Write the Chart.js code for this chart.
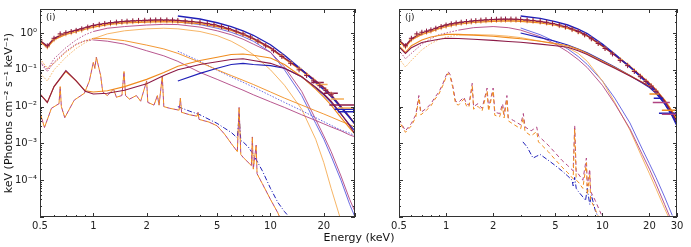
<!DOCTYPE html>
<html>
<head>
<meta charset="utf-8">
<script src="https://cdn.jsdelivr.net/npm/chart.js@4.4.1/dist/chart.umd.min.js"></script>
<style>
  body { margin: 0; background: #fff; width: 691px; height: 247px; position: relative; overflow: hidden; font-family: "DejaVu Sans", sans-serif; }
  #left { position: absolute; left: 0; top: 0; }
  #right { position: absolute; left: 340px; top: 0; }
  #xtitle { position: absolute; left: 259px; width: 200px; top: 231px; text-align: center; font-size: 11px; color: #111; }
</style>
</head>
<body>
<canvas id="left" width="360" height="247"></canvas>
<canvas id="right" width="351" height="247"></canvas>
<div id="xtitle">Energy (keV)</div>
<script>
// energy grid (keV) for the smooth model components
const energyGrid = [0.5, 0.55, 0.6, 0.7, 0.8, 0.9, 1, 1.2, 1.5, 2, 2.5, 3, 4, 5, 6, 7, 8, 10, 12, 15, 18, 20, 22, 25, 28, 30];
const N = null;

// ---- panel (i) ----
const totalMaroonI = [0.62, 0.44, 0.72, 1.0, 1.2, 1.4, 1.6, 1.85, 2.05, 2.2, 2.25, 2.2, 1.95, 1.6, 1.25, 0.95, 0.72, 0.4, 0.21, 0.1, 0.05, 0.033, 0.021, 0.01, 0.0052, 0.0033];
const totalOrangeI = [0.58, 0.41, 0.66, 0.92, 1.1, 1.28, 1.45, 1.7, 1.9, 2.0, 2.05, 2.0, 1.8, 1.5, 1.18, 0.9, 0.68, 0.38, 0.2, 0.095, 0.048, 0.031, 0.02, 0.0098, 0.0052, 0.0034];
const totalBlueI = [N, N, N, N, N, N, N, N, N, N, N, 2.9, 2.4, 1.9, 1.5, 1.15, 0.87, 0.48, 0.25, 0.1, 0.045, 0.029, 0.019, 0.0095, 0.005, 0.0034];
const comptMaroonI = [0.022, 0.013, 0.035, 0.095, 0.05, 0.026, 0.022, 0.023, 0.028, 0.042, 0.07, 0.1, 0.14, 0.165, 0.19, 0.2, 0.18, 0.15, 0.11, 0.065, 0.034, 0.022, 0.014, 0.0065, 0.003, 0.0018];
const comptOrangeI = [0.022, 0.013, 0.035, 0.09, 0.05, 0.027, 0.025, 0.027, 0.035, 0.055, 0.085, 0.125, 0.18, 0.22, 0.26, 0.27, 0.25, 0.21, 0.14, 0.065, 0.03, 0.018, 0.011, 0.005, 0.0026, 0.0018];
const comptBlueI = [N, N, N, N, N, N, N, N, N, N, N, 0.05, 0.08, 0.11, 0.14, 0.15, 0.14, 0.13, 0.11, 0.065, 0.032, 0.021, 0.013, 0.0062, 0.0032, 0.0022];
const plPurpleI = [0.16, 0.09, 0.16, 0.32, 0.5, 0.62, 0.65, 0.6, 0.5, 0.33, 0.24, 0.17, 0.085, 0.055, 0.038, 0.028, 0.021, 0.0135, 0.0095, 0.006, 0.0042, 0.0034, 0.0028, 0.0022, 0.0017, 0.0015];
const plOrangeI = [0.2, 0.11, 0.15, 0.3, 0.48, 0.62, 0.72, 0.7, 0.62, 0.47, 0.37, 0.28, 0.16, 0.1, 0.07, 0.052, 0.04, 0.025, 0.017, 0.011, 0.0077, 0.0063, 0.0052, 0.004, 0.0032, 0.0028];
const plBlueI = [N, N, N, N, N, N, N, N, N, N, N, 0.32, 0.17, 0.098, 0.064, 0.046, 0.034, 0.02, 0.013, 0.0078, 0.005, 0.0039, 0.0031, 0.0023, 0.0019, 0.0016];
const cutOrangeI = [0.08, 0.05, 0.1, 0.22, 0.38, 0.55, 0.7, 0.95, 1.15, 1.3, 1.35, 1.3, 1.1, 0.85, 0.6, 0.4, 0.26, 0.1, 0.038, 0.0085, 0.0013, 0.0003, 0.00006, 0.000008, N, N];
const cutPurpleI = [0.17, 0.1, 0.2, 0.4, 0.65, 0.9, 1.1, 1.35, 1.5, 1.65, 1.72, 1.7, 1.45, 1.15, 0.9, 0.68, 0.5, 0.3, 0.12, 0.026, 0.0045, 0.0016, 0.0006, 0.00013, 0.00003, 0.000014];
const cutBlueI = [N, N, N, N, N, N, N, N, N, N, N, 2.0, 1.7, 1.35, 1.05, 0.8, 0.6, 0.3, 0.1, 0.02, 0.0035, 0.0013, 0.00045, 0.0001, 0.000022, 0.00001];

// line-emission component (i)
const lineEnergyI = [0.5, 0.53, 0.58, 0.64, 0.65, 0.66, 0.69, 0.78, 0.89, 0.95, 1.0, 1.02, 1.04, 1.1, 1.13, 1.2, 1.3, 1.35, 1.45, 1.49, 1.52, 1.6, 1.75, 1.85, 2.0, 2.03, 2.2, 2.3, 2.35, 2.45, 2.5, 2.7, 3.05, 3.1, 3.15, 3.5, 3.85, 3.9, 3.95, 4.5, 5, 5.5, 6, 6.5, 6.65, 6.8, 7, 7.8, 7.9, 8.0, 8.3, 8.4, 9, 10, 11, 11.5];
const lineI = [0.007, 0.0027, 0.009, 0.012, 0.035, 0.01, 0.005, 0.015, 0.023, 0.05, 0.16, 0.11, 0.22, 0.07, 0.025, 0.02, 0.03, 0.018, 0.02, 0.09, 0.02, 0.016, 0.02, 0.014, 0.05, 0.013, 0.011, 0.02, 0.011, 0.067, 0.01, 0.009, 0.008, 0.017, 0.007, 0.006, 0.0055, 0.007, 0.0045, 0.0038, 0.003, 0.0018, 0.001, 0.0006, 0.0095, 0.0005, 0.00042, 0.00025, 0.0015, 0.0002, 0.0009, 0.00015, 0.00008, 0.00003, 0.000013, 0.000008];
const lineBlueEnergyI = [3, 3.5, 4, 4.5, 5, 5.5, 6, 6.5, 6.65, 6.8, 7, 7.5, 8, 9, 10, 11, 12, 13];
const lineBlueI = [0.01, 0.0075, 0.006, 0.0045, 0.0035, 0.0026, 0.002, 0.0014, 0.006, 0.0012, 0.0011, 0.0008, 0.0005, 0.00018, 0.00006, 0.000025, 0.000014, 0.000009];

// observed points
const dataEnergy = [0.5, 0.55, 0.6, 0.65, 0.7, 0.75, 0.8, 0.86, 0.93, 1.0, 1.08, 1.16, 1.25, 1.35, 1.45, 1.55, 1.67, 1.8, 1.95, 2.1, 2.25, 2.4, 2.6, 2.8, 3.0, 3.3, 3.6, 4.0, 4.4, 4.8, 5.3, 5.8, 6.4, 7.0, 7.7, 8.5, 9.4, 10.4, 11.6, 13, 14.5, 16, 17.5, 19, 20.5, 22];
const dataMaroonI = [0.65, 0.45, 0.72, 0.95, 1.02, 1.1, 1.18, 1.3, 1.45, 1.6, 1.72, 1.82, 1.9, 1.98, 2.05, 2.1, 2.15, 2.2, 2.22, 2.25, 2.27, 2.28, 2.27, 2.25, 2.2, 2.12, 2.05, 1.95, 1.82, 1.68, 1.5, 1.32, 1.12, 0.95, 0.78, 0.6, 0.45, 0.33, 0.23, 0.15, 0.1, 0.07, 0.05, 0.037, 0.028, 0.021];
const dataOrangeI = [0.6, 0.42, 0.66, 0.88, 0.95, 1.02, 1.1, 1.2, 1.35, 1.48, 1.6, 1.7, 1.78, 1.85, 1.92, 1.97, 2.02, 2.06, 2.09, 2.11, 2.13, 2.14, 2.13, 2.11, 2.07, 2.0, 1.94, 1.85, 1.73, 1.6, 1.44, 1.28, 1.1, 0.93, 0.77, 0.6, 0.46, 0.34, 0.24, 0.16, 0.11, 0.075, 0.053, 0.039, 0.029, 0.022];
const binLoMaroonI = [17, 20, 21.5], binHiMaroonI = [20, 24, 30], binValMaroonI = [0.045, 0.023, 0.011];
const binLoOrangeI = [18, 22, 24], binHiOrangeI = [21, 26, 30], binValOrangeI = [0.04, 0.016, 0.0092];
const binLoBlueI = [23, 24], binHiBlueI = [30, 30], binValBlueI = [0.0085, 0.0072];

// ---- panel (j) ----
const totalMaroonJ = [0.64, 0.45, 0.7, 1.0, 1.2, 1.45, 1.65, 1.9, 2.1, 2.3, 2.35, 2.3, 2.05, 1.75, 1.42, 1.12, 0.85, 0.45, 0.25, 0.12, 0.062, 0.042, 0.028, 0.014, 0.0065, 0.0038];
const totalOrangeJ = [0.6, 0.42, 0.65, 0.92, 1.1, 1.32, 1.5, 1.75, 1.95, 2.1, 2.15, 2.1, 1.9, 1.65, 1.35, 1.08, 0.83, 0.44, 0.26, 0.125, 0.064, 0.043, 0.029, 0.015, 0.0072, 0.0042];
const totalBlueJ = [N, N, N, N, N, N, N, N, N, N, N, 2.9, 2.5, 2.05, 1.65, 1.28, 0.97, 0.5, 0.27, 0.12, 0.058, 0.038, 0.025, 0.012, 0.0055, 0.003];
const comptMaroonJ = [0.42, 0.28, 0.4, 0.55, 0.62, 0.68, 0.72, 0.71, 0.68, 0.63, 0.59, 0.56, 0.5, 0.45, 0.41, 0.33, 0.26, 0.16, 0.11, 0.068, 0.045, 0.035, 0.025, 0.014, 0.007, 0.0042];
const comptOrangeJ = [0.45, 0.3, 0.45, 0.65, 0.78, 0.86, 0.92, 0.92, 0.88, 0.82, 0.75, 0.7, 0.6, 0.52, 0.45, 0.36, 0.28, 0.17, 0.115, 0.07, 0.046, 0.036, 0.026, 0.015, 0.0075, 0.0045];
const comptBlueJ = [N, N, N, N, N, N, N, N, N, N, N, 1.0, 0.75, 0.6, 0.47, 0.37, 0.29, 0.18, 0.12, 0.07, 0.044, 0.033, 0.023, 0.012, 0.0058, 0.0033];
const cutMaroonJ = [0.34, 0.2, 0.28, 0.5, 0.7, 0.9, 1.0, 1.2, 1.4, 1.5, 1.4, 1.2, 0.8, 0.5, 0.31, 0.19, 0.115, 0.038, 0.012, 0.0025, 0.0005, 0.0002, 0.00008, 0.000022, 0.000007, N];
const cutOrangeJ = [0.2, 0.12, 0.18, 0.35, 0.52, 0.66, 0.78, 0.88, 0.9, 0.88, 0.82, 0.75, 0.6, 0.5, 0.4, 0.28, 0.17, 0.05, 0.013, 0.0023, 0.0004, 0.00015, 0.00006, 0.000017, 0.000006, N];
const cutBlueJ = [N, N, N, N, N, N, N, N, N, N, N, 1.37, 0.9, 0.58, 0.37, 0.23, 0.14, 0.05, 0.017, 0.0036, 0.0007, 0.00028, 0.00012, 0.000035, 0.000011, N];

const lineEnergyJ = [0.5, 0.55, 0.6, 0.64, 0.67, 0.69, 0.75, 0.8, 0.85, 0.9, 0.95, 1.0, 1.03, 1.06, 1.1, 1.15, 1.2, 1.3, 1.35, 1.4, 1.47, 1.5, 1.6, 1.7, 1.83, 1.87, 2.0, 2.05, 2.2, 2.3, 2.35, 2.45, 2.5, 2.7, 3.0, 3.12, 3.2, 3.5, 3.8, 3.9, 4.5, 5, 5.5, 6, 6.5, 6.65, 6.8, 7, 7.5, 7.9, 8.0, 8.3, 8.4, 9, 10];
const lineMaroonJ = [0.0045, 0.0022, 0.0035, 0.006, 0.02, 0.007, 0.009, 0.012, 0.018, 0.025, 0.04, 0.07, 0.09, 0.075, 0.04, 0.014, 0.013, 0.018, 0.012, 0.011, 0.043, 0.01, 0.012, 0.009, 0.032, 0.009, 0.032, 0.007, 0.0065, 0.012, 0.006, 0.02, 0.005, 0.0042, 0.0032, 0.0065, 0.0028, 0.0022, 0.0028, 0.0016, 0.0009, 0.00055, 0.00035, 0.00025, 0.00018, 0.0031, 0.00016, 0.00015, 0.0001, 0.0004, 0.00007, 0.0002, 0.00005, 0.000028, 0.00001];
const lineOrangeJ = [0.004, 0.002, 0.003, 0.0052, 0.017, 0.006, 0.008, 0.0105, 0.016, 0.022, 0.036, 0.063, 0.08, 0.066, 0.035, 0.012, 0.011, 0.016, 0.0105, 0.0095, 0.037, 0.0085, 0.0102, 0.0077, 0.027, 0.0076, 0.027, 0.0058, 0.0053, 0.0098, 0.0049, 0.016, 0.0041, 0.0033, 0.0025, 0.005, 0.0021, 0.0016, 0.0021, 0.0011, 0.0006, 0.00036, 0.00023, 0.00016, 0.00011, 0.0025, 0.0001, 0.00009, 0.00006, 0.0003, 0.00004, 0.00015, 0.00003, 0.000016, 0.000006];
const lineBlueEnergyJ = [3.1, 3.3, 3.6, 3.8, 4.0, 4.5, 5, 5.5, 6, 6.4, 6.5, 6.65, 6.8, 7, 7.5, 7.8, 8.0, 8.3, 8.5, 9, 9.4];
const lineBlueJ = [0.0011, 0.0008, 0.0004, 0.00045, 0.0005, 0.00035, 0.00025, 0.00018, 0.00013, 0.0001, 0.00007, 0.00012, 0.00006, 0.00005, 0.000035, 0.000028, 0.00006, 0.000022, 0.00004, 0.000015, 0.00001];

const dataMaroonJ = [0.64, 0.45, 0.72, 0.95, 1.05, 1.13, 1.22, 1.35, 1.5, 1.65, 1.78, 1.88, 1.97, 2.05, 2.12, 2.18, 2.24, 2.3, 2.34, 2.37, 2.39, 2.4, 2.4, 2.38, 2.34, 2.27, 2.2, 2.08, 1.96, 1.82, 1.65, 1.48, 1.28, 1.1, 0.9, 0.7, 0.52, 0.38, 0.27, 0.18, 0.13, 0.09, 0.065, 0.048, 0.036, 0.026];
const dataOrangeJ = [0.6, 0.42, 0.66, 0.88, 0.97, 1.05, 1.13, 1.25, 1.4, 1.53, 1.65, 1.75, 1.84, 1.91, 1.98, 2.04, 2.09, 2.14, 2.18, 2.21, 2.23, 2.24, 2.24, 2.22, 2.19, 2.13, 2.07, 1.97, 1.86, 1.74, 1.58, 1.42, 1.24, 1.07, 0.89, 0.7, 0.53, 0.39, 0.28, 0.19, 0.135, 0.095, 0.068, 0.05, 0.037, 0.027];
const binLoMaroonJ = [21, 24], binHiMaroonJ = [27, 30], binValMaroonJ = [0.013, 0.0062];
const binLoOrangeJ = [20, 24], binHiOrangeJ = [23, 30], binValOrangeJ = [0.022, 0.008];
const binLoBlueJ = [21.3, 23], binHiBlueJ = [24.5, 30], binValBlueJ = [0.017, 0.0066];

const xMajor = [0.5, 1, 2, 5, 10, 20, 30];
const xMinor = [0.6, 0.7, 0.8, 0.9, 3, 4, 6, 7, 8, 9];
const yMajor = [1e-5, 1e-4, 1e-3, 1e-2, 1e-1, 1];
const yTitle = 'keV (Photons cm\u207B\u00B2 s\u207B\u00B9 keV\u207B\u00B9)';

// colours
const MAROON = '#8c1a46', PURPLE = '#b04482', ORANGE = '#f08c1e', LORANGE = '#f5ad55', BLUE = '#2020b8', LBLUE = '#5a5ae0';

function pts(xs, ys) {
  return xs.map((x, i) => ({ x: x, y: ys[i] })).filter(p => p.y !== null);
}
function curve(xs, ys, color, width, dash, dotBelow) {
  const ds = { type: 'line', data: pts(xs, ys), borderColor: color, borderWidth: width, borderDash: dash || [], pointRadius: 0, fill: false, tension: 0 };
  if (dotBelow) ds.segment = { borderDash: c => c.p1.parsed.x <= dotBelow ? [1.5, 1.5] : undefined };
  return ds;
}
function crosses(xs, ys, color) {
  return { type: 'line', data: pts(xs, ys), showLine: false, pointStyle: 'cross', pointRadius: 2.5, pointBorderWidth: 1, pointBorderColor: color, borderColor: color };
}
function bins(lo, hi, val, color) {
  const d = [];
  lo.forEach((l, i) => { d.push({ x: l, y: val[i] }, { x: hi[i], y: val[i] }, { x: hi[i], y: null }); });
  return { type: 'line', data: d, borderColor: color, borderWidth: 1.5, pointRadius: 0, spanGaps: false };
}

const sup = { '-': '\u207B', '0': '\u2070', '1': '\u00B9', '2': '\u00B2', '3': '\u00B3', '4': '\u2074', '5': '\u2075' };
function powLabel(v) {
  const e = String(Math.round(Math.log10(v)));
  return '10' + e.split('').map(c => sup[c]).join('');
}

// frame, inward ticks, panel letter and the y title
const framePlugin = {
  id: 'frame',
  afterDraw(chart, args, opts) {
    const { ctx, chartArea: a, scales: { x, y } } = chart;
    ctx.save();
    ctx.strokeStyle = '#333';
    ctx.lineWidth = 1;
    ctx.strokeRect(Math.round(a.left) + 0.5, Math.round(a.top) + 0.5, Math.round(a.width) - 1, Math.round(a.height) - 1);
    ctx.beginPath();
    const xt = (v, len) => { const px = Math.round(x.getPixelForValue(v)) + 0.5; ctx.moveTo(px, a.bottom); ctx.lineTo(px, a.bottom - len); ctx.moveTo(px, a.top); ctx.lineTo(px, a.top + len); };
    const yt = (v, len) => { const py = Math.round(y.getPixelForValue(v)) + 0.5; ctx.moveTo(a.left, py); ctx.lineTo(a.left + len, py); ctx.moveTo(a.right, py); ctx.lineTo(a.right - len, py); };
    xMajor.forEach(v => xt(v, 4));
    xMinor.forEach(v => xt(v, 2));
    yMajor.forEach(v => {
      yt(v, 4);
      for (let k = 2; k < 10; k++) if (v * k < 4.5) yt(v * k, 2);
    });
    ctx.stroke();
    ctx.fillStyle = '#222';
    ctx.font = '9px "DejaVu Sans"';
    ctx.fillText(opts.label, a.left + 6, a.top + 11);
    if (opts.ytitle) {
      ctx.fillStyle = '#111';
      ctx.font = '11px "DejaVu Sans"';
      ctx.translate(9, (a.top + a.bottom) / 2);
      ctx.rotate(-Math.PI / 2);
      ctx.textAlign = 'center';
      ctx.textBaseline = 'middle';
      ctx.fillText(opts.ytitle, 0, 0);
    }
    ctx.restore();
  }
};

function makeChart(id, datasets, withY, label) {
  const xTicks = withY ? [0.5, 1, 2, 5, 10, 20] : xMajor;
  return new Chart(document.getElementById(id), {
    type: 'line',
    data: { datasets: datasets },
    options: {
      responsive: false,
      animation: false,
      devicePixelRatio: 1,
      layout: { padding: withY ? { left: 0, right: 1, top: 9, bottom: 0 } : { left: 19, right: 14, top: 9, bottom: 0 } },
      plugins: { legend: { display: false }, tooltip: { enabled: false }, frame: { label: label, ytitle: withY ? yTitle : '' } },
      elements: { line: { tension: 0 } },
      scales: {
        x: {
          type: 'logarithmic', min: 0.5, max: 30,
          grid: { display: false, drawTicks: false }, border: { display: false },
          afterBuildTicks: s => { s.ticks = xTicks.map(v => ({ value: v })); },
          afterFit: s => { s.height = 30; s.paddingLeft = 0; s.paddingRight = 0; },
          ticks: { autoSkip: false, maxRotation: 0, padding: 3, color: '#222', font: { family: 'DejaVu Sans', size: 10 }, callback: v => String(v) }
        },
        y: {
          type: 'logarithmic', min: 1e-5, max: 4.5, display: withY,
          grid: { display: false, drawTicks: false }, border: { display: false },
          afterBuildTicks: s => { s.ticks = [1e-4, 1e-3, 1e-2, 1e-1, 1].map(v => ({ value: v })); },
          afterFit: s => { s.width = 40; },
          ticks: { padding: 3, color: '#222', font: { family: 'DejaVu Sans', size: 10 }, callback: v => powLabel(v) }
        }
      }
    },
    plugins: [framePlugin]
  });
}

const E = energyGrid;
makeChart('left', [
  crosses(dataEnergy, dataMaroonI, MAROON),
  crosses(dataEnergy, dataOrangeI, LORANGE),
  bins(binLoMaroonI, binHiMaroonI, binValMaroonI, MAROON),
  bins(binLoOrangeI, binHiOrangeI, binValOrangeI, LORANGE),
  bins(binLoBlueI, binHiBlueI, binValBlueI, BLUE),
  curve(E, totalBlueI, BLUE, 1.4),
  curve(E, totalMaroonI, MAROON, 1.4),
  curve(E, totalOrangeI, ORANGE, 1.4),
  curve(E, comptMaroonI, MAROON, 1.1),
  curve(E, comptOrangeI, ORANGE, 1.1),
  curve(E, comptBlueI, BLUE, 1.1),
  curve(E, plPurpleI, PURPLE, 0.9, null, 1.0),
  curve(E, plOrangeI, ORANGE, 0.9, null, 1.0),
  curve(E, plBlueI, LBLUE, 0.9, [1.5, 1.5]),
  curve(E, cutOrangeI, LORANGE, 0.9, null, 1.0),
  curve(E, cutPurpleI, PURPLE, 0.9, null, 1.0),
  curve(E, cutBlueI, LBLUE, 0.9),
  Object.assign(curve(lineEnergyI, lineI, ORANGE, 1, [4, 3]), { borderDashOffset: 3.5 }),
  curve(lineEnergyI, lineI, PURPLE, 1, [4, 3]),
  curve(lineBlueEnergyI, lineBlueI, BLUE, 1, [5, 2, 1, 2])
], true, '(i)');

makeChart('right', [
  crosses(dataEnergy, dataMaroonJ, MAROON),
  crosses(dataEnergy, dataOrangeJ, LORANGE),
  bins(binLoMaroonJ, binHiMaroonJ, binValMaroonJ, PURPLE),
  bins(binLoOrangeJ, binHiOrangeJ, binValOrangeJ, ORANGE),
  bins(binLoBlueJ, binHiBlueJ, binValBlueJ, BLUE),
  curve(E, totalBlueJ, BLUE, 1.4),
  curve(E, totalMaroonJ, MAROON, 1.4),
  curve(E, totalOrangeJ, ORANGE, 1.4),
  curve(E, comptMaroonJ, MAROON, 1.1),
  curve(E, comptOrangeJ, ORANGE, 1.1),
  curve(E, comptBlueJ, BLUE, 1.1),
  curve(E, cutMaroonJ, PURPLE, 0.9, null, 1.2),
  curve(E, cutOrangeJ, LORANGE, 0.9, null, 1.2),
  curve(E, cutBlueJ, LBLUE, 0.9),
  Object.assign(curve(lineEnergyJ, lineOrangeJ, ORANGE, 1, [4, 3]), { borderDashOffset: 3.5 }),
  curve(lineEnergyJ, lineMaroonJ, PURPLE, 1, [4, 3]),
  curve(lineBlueEnergyJ, lineBlueJ, BLUE, 1, [5, 2, 1, 2])
], false, '(j)');
</script>
</body>
</html>
